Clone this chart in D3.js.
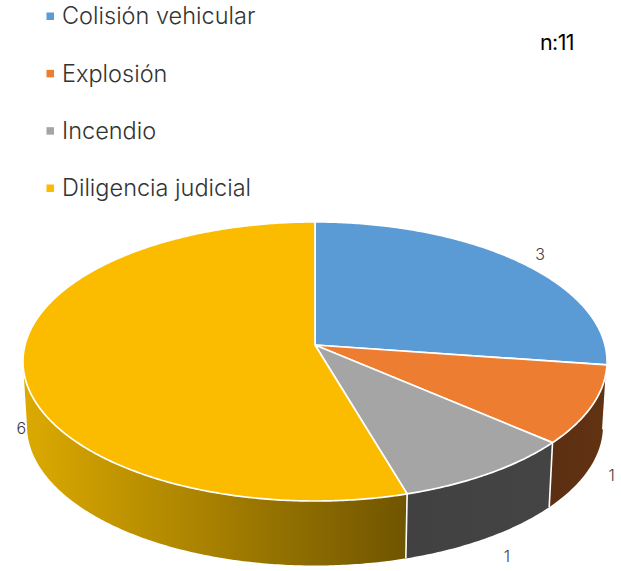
<!DOCTYPE html>
<html><head><meta charset="utf-8">
<script src="https://cdn.jsdelivr.net/npm/d3@7"></script>
<style>html,body{margin:0;padding:0;background:#fff}svg{display:block}text{font-family:Inter,Lato,sans-serif}</style>
</head><body><svg id="c" width="621" height="571"></svg>
<script>
const categories = ["Colisión vehicular","Explosión","Incendio","Diligencia judicial"];
const values = [3,1,1,6];
const topColors = ["#5B9BD5","#ED7D31","#A5A5A5","#FBBC00"];
const wallColors = [["#35597a","#35597a"],["#623312","#5c2f12"],["#444444","#414141"],["#dcaa00","#705500"]];
const sampleTotal = "n:11";

const W=621,H=571;
const svg=d3.select("#c");
const cx=315, apexY=345, baseY=409.5, R=290, S=137.6, k=0.118, baseShrink=0.986;
const rX=d3.scaleLinear().domain([-1,1]).range([-R,R]);
const rY=d3.scaleLinear().domain([-1,1]).range([-S,S]);
function project(a,r,base){
  const u=r*Math.sin(a), v=-r*Math.cos(a), w=1-k*v;
  const f=base?baseShrink:1;
  return [cx+f*rX(u)/w,(base?baseY:apexY)+rY(v)/w];
}
const pie=d3.pie().sort(null).value(d=>d)(values);
const line=d3.line();
const arcAngles=(a0,a1)=>{const n=Math.max(2,Math.ceil((a1-a0)/0.01));return d3.range(n+1).map(i=>a0+(a1-a0)*i/n);};

const defs=svg.append("defs");
const silhouette=0.12;
pie.forEach((p,i)=>{
  const a0=Math.max(p.startAngle,Math.PI/2+silhouette);
  const a1=Math.min(p.endAngle,3*Math.PI/2-silhouette);
  if(a1<=a0) return;
  const pts=arcAngles(a0,a1);
  const xs=pts.map(a=>project(a,1,false)[0]);
  const g=defs.append("linearGradient").attr("id","w"+i).attr("gradientUnits","userSpaceOnUse")
    .attr("x1",i===3?d3.min(xs):d3.max(xs)).attr("x2",i===3?d3.max(xs):d3.min(xs)).attr("y1",0).attr("y2",0);
  g.append("stop").attr("offset",0).attr("stop-color",wallColors[i][0]);
  g.append("stop").attr("offset",1).attr("stop-color",wallColors[i][1]);
  const poly=pts.map(a=>project(a,1,false)).concat(pts.slice().reverse().map(a=>project(a,1,true)));
  svg.append("path").attr("d",line(poly)+"Z").attr("fill",`url(#w${i})`);
  if(p.startAngle>=Math.PI/2+silhouette)
    svg.append("path").attr("d",line([project(p.startAngle,1,false),project(p.startAngle,1,true)]))
      .attr("stroke","#fff").attr("stroke-width",1.6).attr("fill","none");
});
pie.forEach((p,i)=>{
  const poly=[[cx,apexY]].concat(arcAngles(p.startAngle,p.endAngle).map(a=>project(a,1,false)));
  svg.append("path").attr("d",line(poly)+"Z").attr("fill",topColors[i])
    .attr("stroke","#fff").attr("stroke-width",1.7).attr("stroke-linejoin","round");
});

const labelReach=[1.115,1.08,1.105,1.02];
const labelNudgeY=[2,1,3,-1];
pie.forEach((p,i)=>{
  const a=(p.startAngle+p.endAngle)/2, front=Math.cos(a)<0;
  const [x,y]=project(a,labelReach[i],front);
  svg.append("text").attr("x",x).attr("y",y+labelNudgeY[i]).attr("dy","0.35em").attr("text-anchor","middle")
    .attr("font-size",16).attr("font-weight",300).attr("fill","#404040").text(p.value);
});

const ly=d3.scalePoint().domain(categories).range([16,188]);
categories.forEach((c,i)=>{
  svg.append("rect").attr("x",46.5).attr("y",ly(c)-3.5).attr("width",7.5).attr("height",7.5).attr("fill",topColors[i]);
  svg.append("text").attr("x",62).attr("y",ly(c)).attr("dy","0.35em").attr("font-size",23.5).attr("font-weight",300)
    .attr("fill","#333").text(c);
});
svg.append("text").attr("x",540).attr("y",50).attr("font-size",21.5).attr("font-weight",400).attr("letter-spacing",-0.6).attr("fill","#000").text(sampleTotal);
</script></body></html>
